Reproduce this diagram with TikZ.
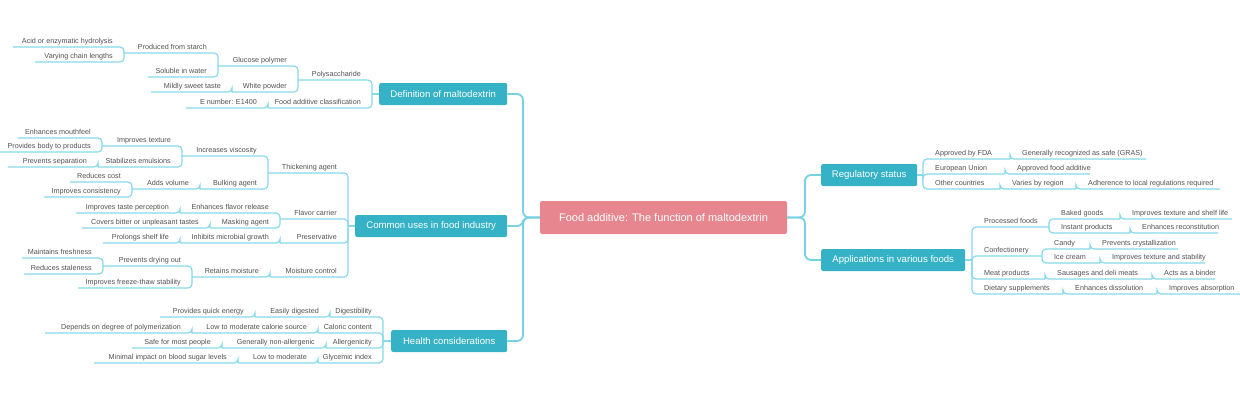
\documentclass[tikz,border=0pt]{standalone}
\usepackage{fontspec}
\setmainfont{Liberation Sans}
\definecolor{boxc}{HTML}{35B2C6}
\definecolor{linec}{HTML}{86D9E8}
\definecolor{txtc}{HTML}{505050}
\definecolor{rootc}{HTML}{E8868F}
\newcounter{nn}
% left: xl xr y py text
\newcommand{\lmm}[5]{\stepcounter{nn}%
  \draw[sub] (#1,#3) -- (#2,#3) -- (#2,#4);
  \node[leaf,anchor=base east] (l\thenn) at (#2-11,#3-3.5) {#5};}
\newcommand{\rmm}[5]{\stepcounter{nn}%
  \draw[sub] (#1,#4) -- (#1,#3) -- (#2,#3);
  \node[leaf,anchor=base west] (r\thenn) at (#1+12,#3-3.5) {#5};}
\begin{document}
\begin{tikzpicture}[x=1pt,y=-1pt,
  sub/.style={draw=linec,line width=1.2pt,rounded corners=4pt},
  mainl/.style={draw=linec!80!boxc,line width=1.8pt,rounded corners=6pt},
  leaf/.style={text=txtc,font=\fontsize{7.2}{8}\selectfont,inner sep=0pt},
  topic/.style={fill=boxc,text=white,rounded corners=2pt,font=\fontsize{9.6}{11}\selectfont,minimum height=22pt,inner sep=0pt,anchor=west}]
\useasboundingbox (0,0) rectangle (1240,400);
\node[fill=rootc,text=white,rounded corners=2pt,font=\fontsize{11}{13}\selectfont,minimum width=247pt,minimum height=33pt,inner sep=0pt] (root) at (663.5,217.5) {Food additive: The function of maltodextrin};
\node[topic,minimum width=128pt] (def) at (379,94) {Definition of maltodextrin};
\node[topic,minimum width=152pt] (com) at (355,226) {Common uses in food industry};
\node[topic,minimum width=116pt] (hea) at (391,341) {Health considerations};
\node[topic,minimum width=96pt] (reg) at (821,175) {Regulatory status};
\node[topic,minimum width=144pt] (app) at (821,260) {Applications in various foods};
\draw[mainl] (root.west) -- (523,217.5) -- (523,94) -- (def.east);
\draw[mainl] (root.west) -- (523,217.5) -- (523,226) -- (com.east);
\draw[mainl] (root.west) -- (523,217.5) -- (523,341) -- (hea.east);
\draw[mainl] (root.east) -- (805,217.5) -- (805,175) -- (reg.east -| reg.west);
\draw[mainl] (root.east) -- (805,217.5) -- (805,260) -- (app.west);
\draw[sub] (def.west) -- (372,94);
\draw[sub] (com.west) -- (348,226);
\draw[sub] (hea.west) -- (383,341);
\draw[sub] (reg.east) -- (923,175);
\draw[sub] (app.east) -- (972,260);
% Definition
\lmm{298}{372}{80}{94}{Polysaccharide}
\lmm{218}{298}{66}{80}{Glucose polymer}
\lmm{124}{218}{53}{66}{Produced from starch}
\lmm{13}{124}{47}{53}{Acid or enzymatic hydrolysis}
\lmm{35}{124}{62}{53}{Varying chain lengths}
\lmm{148}{218}{77}{66}{Soluble in water}
\lmm{232}{298}{92}{80}{White powder}
\lmm{151}{232}{92}{92}{Mildly sweet taste}
\lmm{268}{372}{108}{94}{Food additive classification}
\lmm{186}{268}{108}{108}{E number: E1400}
% Common uses
\lmm{268}{348}{173}{226}{Thickening agent}
\lmm{182}{268}{156}{173}{Increases viscosity}
\lmm{102}{182}{146}{156}{Improves texture}
\lmm{18}{102}{138}{146}{Enhances mouthfeel}
\lmm{0}{102}{152}{146}{Provides body to products}
\lmm{98}{182}{167}{156}{Stabilizes emulsions}
\lmm{8}{98}{167}{167}{Prevents separation}
\lmm{200}{268}{189}{173}{Bulking agent}
\lmm{132}{200}{189}{189}{Adds volume}
\lmm{70}{132}{182}{189}{Reduces cost}
\lmm{44}{132}{197}{189}{Improves consistency}
\lmm{280}{348}{219}{226}{Flavor carrier}
\lmm{180}{280}{213}{219}{Enhances flavor release}
\lmm{76}{180}{213}{213}{Improves taste perception}
\lmm{210}{280}{228}{219}{Masking agent}
\lmm{82}{210}{228}{228}{Covers bitter or unpleasant tastes}
\lmm{280}{348}{243}{226}{Preservative}
\lmm{180}{280}{243}{243}{Inhibits microbial growth}
\lmm{103}{180}{243}{243}{Prolongs shelf life}
\lmm{270}{348}{277}{226}{Moisture control}
\lmm{192}{270}{277}{277}{Retains moisture}
\lmm{103}{192}{266}{277}{Prevents drying out}
\lmm{22}{103}{258}{266}{Maintains freshness}
\lmm{24}{103}{274}{266}{Reduces staleness}
\lmm{78}{192}{288}{277}{Improves freeze-thaw stability}
% Health
\lmm{330}{383}{317}{341}{Digestibility}
\lmm{255}{330}{317}{317}{Easily digested}
\lmm{160}{255}{317}{317}{Provides quick energy}
\lmm{318}{383}{333}{341}{Caloric content}
\lmm{192}{318}{333}{333}{Low to moderate calorie source}
\lmm{45}{192}{333}{333}{Depends on degree of polymerization}
\lmm{326}{383}{348}{341}{Allergenicity}
\lmm{222}{326}{348}{348}{Generally non-allergenic}
\lmm{132}{222}{348}{348}{Safe for most people}
\lmm{318}{383}{363}{341}{Glycemic index}
\lmm{238}{318}{363}{363}{Low to moderate}
\lmm{94}{238}{363}{363}{Minimal impact on blood sugar levels}
% Regulatory
\rmm{923}{1010}{159}{175}{Approved by FDA}
\rmm{1010}{1146}{159}{159}{Generally recognized as safe (GRAS)}
\rmm{923}{1005}{174}{175}{European Union}
\rmm{1005}{1090}{174}{174}{Approved food additive}
\rmm{923}{1000}{189}{175}{Other countries}
\rmm{1000}{1076}{189}{189}{Varies by region}
\rmm{1076}{1220}{189}{189}{Adherence to local regulations required}
% Applications
\rmm{972}{1049}{227}{260}{Processed foods}
\rmm{1049}{1120}{219}{227}{Baked goods}
\rmm{1120}{1232}{219}{219}{Improves texture and shelf life}
\rmm{1049}{1130}{233}{227}{Instant products}
\rmm{1130}{1218}{233}{233}{Enhances reconstitution}
\rmm{972}{1042}{256}{260}{Confectionery}
\rmm{1042}{1090}{249}{256}{Candy}
\rmm{1090}{1178}{249}{249}{Prevents crystallization}
\rmm{1042}{1100}{263}{256}{Ice cream}
\rmm{1100}{1205}{263}{263}{Improves texture and stability}
\rmm{972}{1045}{279}{260}{Meat products}
\rmm{1045}{1152}{279}{279}{Sausages and deli meats}
\rmm{1152}{1215}{279}{279}{Acts as a binder}
\rmm{972}{1063}{294}{260}{Dietary supplements}
\rmm{1063}{1157}{294}{294}{Enhances dissolution}
\rmm{1157}{1240}{294}{294}{Improves absorption}
\end{tikzpicture}
\end{document}
